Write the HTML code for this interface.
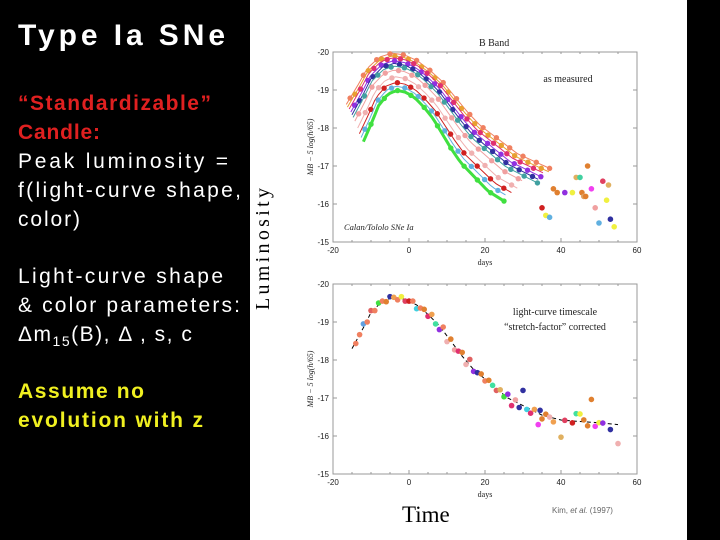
<!DOCTYPE html>
<html><head><meta charset="utf-8"><style>
html,body{margin:0;padding:0;background:#000;}
svg{display:block;}
</style></head><body>
<svg id="slide" width="720" height="540" xmlns="http://www.w3.org/2000/svg">
<rect x="0" y="0" width="720" height="540" fill="#000"/>
<rect x="250" y="0" width="437" height="540" fill="#fff"/>
<g font-family="Liberation Sans, sans-serif">
<text x="18" y="45" font-size="30" font-weight="bold" fill="#fff" textLength="207">Type Ia SNe</text>
<text x="18" y="110" font-size="21" font-weight="bold" fill="#e02020" textLength="193">“Standardizable”</text>
<text x="18" y="139" font-size="21" font-weight="bold" fill="#e02020" textLength="82">Candle:</text>
<text x="18" y="168" font-size="21" fill="#fff" textLength="210">Peak luminosity =</text>
<text x="18" y="197" font-size="21" fill="#fff" textLength="223">f(light-curve shape,</text>
<text x="18" y="226" font-size="21" fill="#fff" textLength="62">color)</text>
<text x="18" y="283" font-size="21" fill="#fff" textLength="205">Light-curve shape</text>
<text x="18" y="312" font-size="21" fill="#fff" textLength="222">&amp; color parameters:</text>
<text x="18" y="341" font-size="21" fill="#fff" letter-spacing="1.5">Δm<tspan font-size="14" dy="5">15</tspan><tspan dy="-5">(B), Δ , s, c</tspan></text>
<text x="18" y="398" font-size="21" font-weight="bold" fill="#f0f020" textLength="126">Assume no</text>
<text x="18" y="427" font-size="21" font-weight="bold" fill="#f0f020" textLength="185">evolution with z</text>
</g>
<text transform="translate(269,310) rotate(-90)" font-family="Liberation Serif, serif" font-size="20" fill="#000" textLength="122">Luminosity</text>
<text x="402" y="522" font-family="Liberation Serif, serif" font-size="23" fill="#000">Time</text>
<g id="topchart"></g>
<g id="botchart"></g>
</svg>
<script>
// template light curve (days, magnitude)
const templateDays = [-15,-12,-10,-7,-4,-1,2,5,8,11,14,17,20,23,26,29,32,35,40,45,50,55];
const templateMags = [-18.3,-18.85,-19.25,-19.55,-19.65,-19.6,-19.45,-19.2,-18.9,-18.5,-18.1,-17.75,-17.5,-17.25,-17.0,-16.85,-16.7,-16.55,-16.42,-16.38,-16.35,-16.3];
// top chart: per-supernova peak offset and stretch
const snOffsets = [-0.32,-0.25,-0.2,-0.12,-0.05,0.02,0.12,0.3,0.45,0.55,0.66];
const snStretch = [1.1,1.08,1.05,1.02,1.0,0.98,0.95,0.9,0.87,0.84,0.8];
const snEndDays = [37,37,36,35,34,34,30,29,27,26,25];
const snColors = ['#f08060','#e8a030','#e03070','#9030e0','#3030a0','#40a0a0','#f0a0a0','#f0b0b0','#d02020','#60b0e0','#40e040'];
// late-time scatter points in top chart
const lateDays = [38,39,41,43,44,45,45.5,46,46.5,47,48,49,50,51,52,52.5,53,54,36,37,35];
const lateMags = [-16.4,-16.3,-16.3,-16.3,-16.7,-16.7,-16.3,-16.2,-16.2,-17.0,-16.4,-15.9,-15.5,-16.6,-16.1,-16.5,-15.6,-15.4,-15.7,-15.65,-15.9];
const lateColors = ['#e08030','#e08030','#9030e0','#f0f040','#e0b060','#40d0a0','#e08030','#e0a060','#e08030','#e08030','#f040f0','#f0a0a0','#60b0e0','#e04060','#f0f040','#e0b060','#3030a0','#f0f040','#f0f040','#60b0e0','#d02020'];
// bottom chart: corrected points (days, residual from template)
const botDays = [-14,-13,-12,-11,-10,-9,-8,-7,-6,-5,-4,-3,-2,-1,0,1,2,3,4,5,6,7,8,9,10,11,12,13,14,15,16,17,18,19,20,21,22,23,24,25,26,27,28,29,30,31,32,33,34,34.5,35,36,37,38,40,41,43,44,45,46,47,48,49,50,51,53,55];
const botResid = [0.05,0,-0.1,0.05,-0.05,0.05,-0.05,0,0.05,-0.05,0,0.05,-0.05,0.05,0,-0.05,0.1,0,-0.05,0.05,-0.1,0.05,0.1,-0.1,0.15,-0.05,0.1,0,-0.1,0.1,-0.15,0.05,0,-0.05,0.05,-0.05,0,0.05,-0.05,0.05,-0.1,0.15,-0.05,0.1,-0.4,0.05,0.1,-0.05,0.3,-0.1,0.1,-0.05,0,0.1,0.45,0,0.05,-0.2,-0.2,-0.05,0.1,-0.6,0.1,0,0,0.15,0.5];
const botColors = ['#f08060','#f08060','#60a0e0','#f08060','#e06060','#f08060','#40e040','#f08060','#e08030','#3030a0','#f0a050','#f08060','#f0f040','#e04060','#d02020','#f08060','#40d0e0','#f08060','#e08030','#e03070','#f0a050','#40e0a0','#9030e0','#f08060','#f0b0b0','#e08030','#f0a0a0','#e03070','#e08030','#f0b0b0','#e06060','#9030e0','#3030a0','#e08030','#f08060','#e08030','#40e0a0','#e06060','#e0b060','#40e040','#9030e0','#e03070','#f0a0a0','#3030a0','#3030a0','#40d0e0','#e03070','#f0a050','#f040f0','#3030a0','#e08030','#e08030','#f0b0b0','#f0a050','#e0b060','#e04060','#d02020','#40e0a0','#f0f040','#e08030','#e08030','#e08030','#f040f0','#f0f040','#9030e0','#3030a0','#f0b0b0'];
const xTicks = [-20,0,20,40,60];
const yTicks = [-20,-19,-18,-17,-16,-15];
const yTickLabels = ['-20','-19','-18','-17','-16','-15'];

const NS='http://www.w3.org/2000/svg';
function mk(parent,tag,attrs){const e=document.createElementNS(NS,tag);for(const k in attrs)e.setAttribute(k,attrs[k]);parent.appendChild(e);return e;}
function interp(d){if(d<=templateDays[0]){const s=(templateMags[1]-templateMags[0])/(templateDays[1]-templateDays[0]);return templateMags[0]+(d-templateDays[0])*s;}
 for(let i=1;i<templateDays.length;i++){if(d<=templateDays[i]){const t=(d-templateDays[i-1])/(templateDays[i]-templateDays[i-1]);return templateMags[i-1]+t*(templateMags[i]-templateMags[i-1]);}}return templateMags[templateMags.length-1];}

function axes(g,x0,y0,w,h,title,yLabel){
 const sx=d=>x0+(d+20)/80*w, sy=m=>y0+(m+20)/5*h;
 const f=mk(g,'rect',{x:x0,y:y0,width:w,height:h,fill:'none',stroke:'#999','stroke-width':1});
 
 
 xTicks.forEach(t=>{const x=sx(t);
  mk(g,'line',{x1:x,x2:x,y1:y0+h,y2:y0+h-4,stroke:'#999'});
  const l=mk(g,'text',{x:x,y:y0+h+11,'font-size':8,'text-anchor':'middle','font-family':'Liberation Sans, sans-serif',fill:'#222'});l.textContent=t;
  
  
 });
 for(let t=-20;t<=60;t+=5){const x=sx(t);mk(g,'line',{x1:x,x2:x,y1:y0,y2:y0+2,stroke:'#999'});mk(g,'line',{x1:x,x2:x,y1:y0+h,y2:y0+h-2,stroke:'#999'});}
 yTicks.forEach((t,i)=>{const y=sy(t);
  mk(g,'line',{x1:x0,x2:x0+4,y1:y,y2:y,stroke:'#999'});mk(g,'line',{x1:x0+w,x2:x0+w-4,y1:y,y2:y,stroke:'#999'});
  const l=mk(g,'text',{x:x0-4,y:y+3,'font-size':8,'text-anchor':'end','font-family':'Liberation Sans, sans-serif',fill:'#222'});l.textContent=yTickLabels[i];
  
  
 });
 const xl=mk(g,'text',{x:x0+w/2,y:y0+h+23,'font-size':8,'text-anchor':'middle','font-family':'Liberation Serif, serif',fill:'#222'});xl.textContent='days';
 
 
 const yl=mk(g,'text',{transform:`translate(${x0-20},${y0+h/2}) rotate(-90)`,'font-size':8,'text-anchor':'middle','font-family':'Liberation Serif, serif','font-style':'italic',fill:'#222'});yl.textContent=yLabel;
 
 
 if(title){const tt=mk(g,'text',{x:x0+w*0.53,y:y0-6,'font-size':10,'text-anchor':'middle','font-family':'Liberation Serif, serif',fill:'#222'});tt.textContent=title;
 
 }
 return {sx,sy};
}
// TOP chart
const topG=document.getElementById('topchart');
const A=axes(topG,333,52,304,190,'B Band','MB − 5 log(h/65)');
snOffsets.forEach((off,i)=>{
 const s=snStretch[i];let pts=[];
 const start=templateDays[0]*s;
 for(let d=start;d<=snEndDays[i];d+=1){pts.push(A.sx(d)+','+A.sy(interp(d/s)+off));}
 const pl=mk(topG,'polyline',{points:pts.join(' '),fill:'none',stroke:snColors[i],'stroke-width':i==10?3:1});
 
 
 for(let d=start+1+i%3;d<=snEndDays[i];d+=3.5){
  const c=mk(topG,'circle',{cx:A.sx(d),cy:A.sy(interp(d/s)+off),r:2.7,fill:snColors[i]});
  
  
 }
});
lateDays.forEach((d,i)=>{const c=mk(topG,'circle',{cx:A.sx(d),cy:A.sy(lateMags[i]),r:2.8,fill:lateColors[i]});
 
 });
let t1=mk(topG,'text',{x:568,y:82,'font-size':10,'text-anchor':'middle','font-family':'Liberation Serif, serif',fill:'#222'});t1.textContent='as measured';


let t2=mk(topG,'text',{x:344,y:230,'font-size':8.5,'font-family':'Liberation Serif, serif','font-style':'italic',fill:'#222'});t2.textContent='Calan/Tololo SNe Ia';


// BOTTOM chart
const botG=document.getElementById('botchart');
const B=axes(botG,333,284,304,190,null,'MB − 5 log(h/65)');
let bp=[];for(let d=-15;d<=55;d+=1)bp.push(B.sx(d)+','+B.sy(interp(d)));
const bl=mk(botG,'polyline',{points:bp.join(' '),fill:'none',stroke:'#000','stroke-width':1,'stroke-dasharray':'4,3'});


botDays.forEach((d,i)=>{const c=mk(botG,'circle',{cx:B.sx(d),cy:B.sy(interp(d)+botResid[i]),r:2.8,fill:botColors[i]});
 
 });
let t3=mk(botG,'text',{x:555,y:315,'font-size':10,'text-anchor':'middle','font-family':'Liberation Serif, serif',fill:'#222'});t3.textContent='light-curve timescale';


let t4=mk(botG,'text',{x:555,y:330,'font-size':10,'text-anchor':'middle','font-family':'Liberation Serif, serif',fill:'#222'});t4.textContent='“stretch-factor” corrected';


let t5=mk(botG,'text',{x:552,y:513,'font-size':8,'font-family':'Liberation Sans, sans-serif',fill:'#666'});t5.innerHTML='Kim, <tspan font-style="italic">et al.</tspan> (1997)';


</script>
</body></html>
